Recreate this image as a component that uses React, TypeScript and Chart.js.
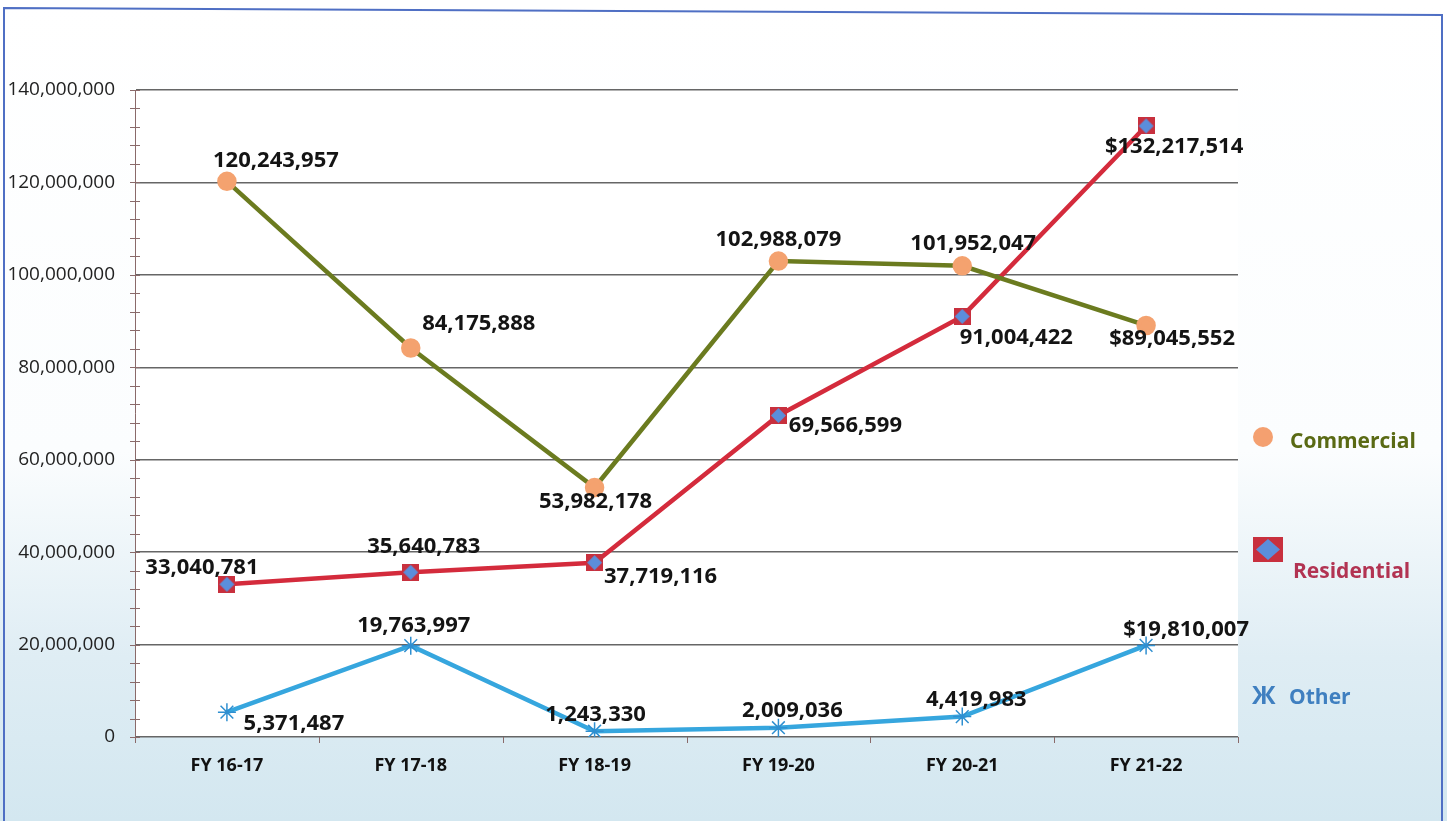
import React, { useEffect, useRef } from "react";
import { Chart, registerables } from "chart.js";

Chart.register(...registerables);

const categories = ["FY 16-17", "FY 17-18", "FY 18-19", "FY 19-20", "FY 20-21", "FY 21-22"];
const commercial = [120243957, 84175888, 53982178, 102988079, 101952047, 89045552];
const residential = [33040781, 35640783, 37719116, 69566599, 91004422, 132217514];
const other = [5371487, 19763997, 1243330, 2009036, 4419983, 19810007];
const seriesNames = ["Commercial", "Residential", "Other"];
const yTicks = [0, 20000000, 40000000, 60000000, 80000000, 100000000, 120000000, 140000000];

// label placement offsets (px) relative to each point
const labelOffsets = [
  [[49, -21], [68, -24], [1, 14], [0, -21], [11, -22], [26, 13]],
  [[-25, -17], [13, -26], [66, 14], [67, 10], [54, 21], [28, 21]],
  [[67, 12], [3, -20], [1, -17], [14, -17], [14, -17], [40, -16]],
];

const FONT = "'Open Sans', 'Noto Sans', sans-serif";

function makeResidentialMarker() {
  const c = document.createElement("canvas");
  c.width = 17;
  c.height = 17;
  const g = c.getContext("2d")!;
  g.fillStyle = "#c8303e";
  g.fillRect(0, 0, 17, 17);
  g.fillStyle = "#5b8edb";
  g.beginPath();
  g.moveTo(8.5, 1);
  g.lineTo(16, 8.5);
  g.lineTo(8.5, 16);
  g.lineTo(1, 8.5);
  g.closePath();
  g.fill();
  return c;
}

export default function App() {
  const ref = useRef<HTMLCanvasElement>(null);

  useEffect(() => {
    document.body.style.margin = "0";
    const resMarker = makeResidentialMarker();

    const bgPlugin = {
      id: "bg",
      beforeDraw(chart: any) {
        const { ctx, width, height, chartArea: a } = chart;
        ctx.save();
        const grd = ctx.createLinearGradient(0, 0, 0, height);
        grd.addColorStop(0, "#ffffff");
        grd.addColorStop(0.55, "#fbfdfe");
        grd.addColorStop(0.8, "#dfedf4");
        grd.addColorStop(1, "#d3e7f0");
        ctx.fillStyle = grd;
        ctx.fillRect(0, 0, width, height);
        ctx.fillStyle = "#ffffff";
        ctx.fillRect(a.left, a.top, a.right - a.left, a.bottom - a.top);
        ctx.strokeStyle = "#4f6fc4";
        ctx.lineWidth = 2;
        ctx.beginPath();
        ctx.moveTo(4, height);
        ctx.lineTo(4, 8);
        ctx.lineTo(1442, 15);
        ctx.lineTo(1442, height);
        ctx.stroke();
        ctx.restore();
      },
      afterDraw(chart: any) {
        const { ctx, chartArea: a } = chart;
        const ys = chart.scales.y;
        ctx.save();
        ctx.strokeStyle = "#8a6a6a";
        ctx.lineWidth = 1;
        for (let v = 0; v <= 140000000; v += 4000000) {
          const y = Math.round(ys.getPixelForValue(v)) + 0.5;
          ctx.beginPath();
          ctx.moveTo(a.left - 5, y);
          ctx.lineTo(a.left + 5, y);
          ctx.stroke();
        }
        const n = categories.length;
        for (let i = 0; i <= n; i++) {
          const x = Math.round(a.left + (i * (a.right - a.left)) / n) + 0.5;
          ctx.beginPath();
          ctx.moveTo(x, a.bottom);
          ctx.lineTo(x, a.bottom + 6);
          ctx.stroke();
        }
        ctx.restore();

        // legend
        ctx.save();
        ctx.textBaseline = "middle";
        ctx.textAlign = "left";
        ctx.font = `bold 21px ${FONT}`;
        ctx.fillStyle = "#f4a070";
        ctx.beginPath();
        ctx.arc(1263, 437, 10, 0, Math.PI * 2);
        ctx.fill();
        ctx.fillStyle = "#5a6a14";
        ctx.fillText(seriesNames[0], 1290, 442);

        ctx.fillStyle = "#c8303e";
        ctx.fillRect(1253, 537, 30, 25);
        ctx.fillStyle = "#5b8edb";
        ctx.beginPath();
        ctx.moveTo(1268, 539);
        ctx.lineTo(1280, 549.5);
        ctx.lineTo(1268, 560);
        ctx.lineTo(1256, 549.5);
        ctx.closePath();
        ctx.fill();
        ctx.fillStyle = "#b23352";
        ctx.fillText(seriesNames[1], 1293, 572);

        ctx.fillStyle = "#3f7fc0";
        ctx.font = `bold 25px ${FONT}`;
        ctx.fillText("Ж", 1252, 697);
        ctx.font = `bold 21px ${FONT}`;
        ctx.fillText(seriesNames[2], 1289, 698);
        ctx.restore();
      },
    };

    const labelPlugin = {
      id: "vlabels",
      afterDatasetsDraw(chart: any) {
        const { ctx } = chart;
        ctx.save();
        ctx.font = `bold 22px ${FONT}`;
        ctx.fillStyle = "#141414";
        ctx.textAlign = "center";
        ctx.textBaseline = "middle";
        chart.data.datasets.forEach((ds: any, di: number) => {
          const meta = chart.getDatasetMeta(di);
          meta.data.forEach((el: any, i: number) => {
            const v = ds.data[i] as number;
            const txt = (i === ds.data.length - 1 ? "$" : "") + v.toLocaleString("en-US");
            const [dx, dy] = labelOffsets[di][i];
            ctx.fillText(txt, el.x + dx, el.y + dy);
          });
        });
        ctx.restore();
      },
    };

    const chart = new Chart(ref.current!, {
      type: "line",
      data: {
        labels: categories,
        datasets: [
          {
            label: seriesNames[0],
            data: commercial,
            borderColor: "#6b7b1f",
            borderWidth: 4.5,
            pointStyle: "circle",
            pointRadius: 7.5,
            pointBackgroundColor: "#f4a26f",
            pointBorderColor: "#f4a26f",
            tension: 0,
          },
          {
            label: seriesNames[1],
            data: residential,
            borderColor: "#d42b3c",
            borderWidth: 4.5,
            pointStyle: resMarker as any,
            pointRadius: 8,
            tension: 0,
          },
          {
            label: seriesNames[2],
            data: other,
            borderColor: "#36a6de",
            borderWidth: 4.5,
            pointStyle: "star",
            pointRadius: 9,
            pointBorderColor: "#2f8fd0",
            pointBorderWidth: 1.5,
            tension: 0,
          },
        ],
      },
      options: {
        responsive: false,
        animation: false,
        layout: { padding: { top: 90, right: 209, left: 0, bottom: 0 } },
        plugins: { legend: { display: false }, tooltip: { enabled: false } },
        scales: {
          x: {
            type: "category",
            offset: true,
            grid: { display: false, drawTicks: false },
            border: { display: false },
            ticks: {
              font: { family: FONT, size: 18, weight: "bold" },
              color: "#111",
              padding: 18,
              maxRotation: 0,
            },
            afterFit(scale: any) {
              scale.height = 84;
            },
          },
          y: {
            min: 0,
            max: 140000000,
            afterBuildTicks(scale: any) {
              scale.ticks = yTicks.map((v) => ({ value: v }));
            },
            grid: { color: "#666666", lineWidth: 1.5, drawTicks: false },
            border: { display: true, color: "#8a6a6a", width: 1 },
            ticks: {
              font: { family: FONT, size: 19 },
              color: "#222",
              padding: 20,
              callback: (v: any) => Number(v).toLocaleString("en-US"),
            },
            afterFit(scale: any) {
              scale.width = 135;
            },
          },
        },
      },
      plugins: [bgPlugin, labelPlugin],
    });
    return () => chart.destroy();
  }, []);

  return (
    <div style={{ position: "fixed", left: 0, top: 0, width: 1447, height: 821 }}>
      <canvas ref={ref} width={1447} height={821} />
    </div>
  );
}
